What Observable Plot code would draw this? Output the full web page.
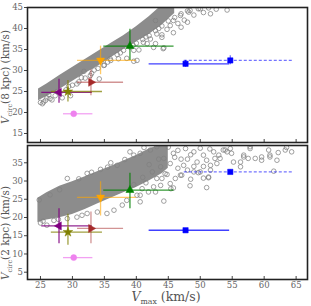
<!DOCTYPE html>
<html><head><meta charset="utf-8">
<script src="https://cdn.jsdelivr.net/npm/d3@7"></script>
<script src="https://cdn.jsdelivr.net/npm/@observablehq/plot@0.6"></script>
<style>
body{margin:0;background:#fff;}
#c{position:relative;width:311px;height:306px;}
#c svg{position:absolute;left:0;overflow:visible;}
</style>
</head><body><div id="c"></div>
<script>
// ---- satellite measurements ----
const names   = ["purple","olive","brown","orange","green","violet","blueA","blueB"];
const colors  = ["#800080","#808000","#a52a2a","#ffa500","#008000","#ee82ee","#0000ff","#0000ff"];
const lineOp  = [0.85, 0.75, 0.5, 0.6, 0.8, 0.75, 0.75, 0.55];
const symbols = ["triangle","star","triangle","triangle","triangle","circle","square","square"];
const rotates = [-90, 0, 90, 180, 0, 0, 0, 0];
const dashed  = [false, false, false, false, false, false, false, true];
const vmax    = [27.9, 29.3, 32.9, 34.4, 39.0, 30.2, 47.7, 54.7];
const vmaxLo  = [25.2, 26.7, 30.8, 30.8, 34.9, 28.6, 42.0, 47.5];
const vmaxHi  = [33.1, 34.7, 38.0, 40.0, 45.9, 33.2, 54.6, 64.7];
const v8      = [24.8, 25.0, 27.2, 32.4, 35.8, 19.7, 31.6, 32.4];
const v8Lo    = [22.2, 22.5, 24.0, 29.0, 32.4, 19.4, 30.8, 31.4];
const v8Hi    = [27.9, 27.6, 30.2, 35.8, 39.8, 20.0, 32.4, 33.5];
const v2      = [17.7, 16.0, 17.0, 25.5, 27.5, 9.0, 16.5, 32.5];
const v2Lo    = [12.8, 12.4, 12.8, 20.4, 22.4, 8.7, 16.2, 32.0];
const v2Hi    = [22.4, 20.9, 21.5, 29.8, 32.1, 9.3, 16.8, 33.0];

// ---- simulated subhalo cloud: dense core band + individual points ----
const band8X  = [24.7, 26, 28, 30, 32, 34, 36, 38, 40, 42, 44, 46];
const band8Hi = [25.6, 26.8, 28.8, 30.7, 32.6, 34.5, 36.4, 38.3, 40.4, 42.8, 45.5, 46];
const band8Lo = [22.8, 23.8, 25.5, 27.4, 29.3, 31.0, 33.0, 35.0, 36.8, 38.6, 40.8, 43.6];
const pts8 = [
 [25.3,22.1],[25.5,22.5],[26.8,23.0],[26.0,23.5],[28.4,23.5],[29.7,24.0],[34.2,28.0],[34.9,31.2],
 [35.9,32.8],[37.2,32.8],[38.5,32.9],[39.6,32.2],[40.1,32.4],[40.4,34.9],[41.1,36.7],[39.6,34.8],
 [42.7,35.5],[31.8,29.8],[30.7,26.8],[32.8,28.8],[45.8,39.0],[44.2,35.2],[44.0,38.5],[51.6,43.5],
 [51.3,44.9],[50.0,44.7],[48.2,43.9],[46.9,43.1],[45.8,41.9],[45.3,40.7],[43.2,38.7],[42.2,37.5],
 [41.7,36.4],[54.2,44.4],[49.7,44.7],[48.4,44.3],[44.3,35.4],[44.0,37.9],[43.0,36.4],[47.5,42.0],
 [49.0,43.2],[50.5,43.8],[52.5,44.6],[46.5,41.2],[48.0,41.5],[44.8,39.8],[47.0,40.3],[43.0,41.9],
 [25.0,22.4],[25.8,22.9],[26.5,23.3],[27.3,24.0],[28.0,24.6],[29.0,25.4],[30.0,26.5],[31.0,27.3],
 [32.0,28.2],[33.0,29.3],[34.0,30.5],[35.0,31.3],[36.0,32.4],[37.0,33.8],[38.0,34.8],[39.0,35.6],
 [40.0,36.5],[41.0,37.4],[42.0,38.3],[43.0,39.5],[44.0,40.6],[45.0,41.8],[46.0,42.6],[47.0,43.5],[48.0,44.2],
 [26.3,24.2],[27.6,25.0],[29.4,26.2],[31.4,28.3],[33.4,30.1],[35.5,32.0],[37.5,34.2],[39.5,36.0],[41.5,38.0],[43.5,40.0]
];
const band2X  = [24.6, 26, 28, 30, 32, 34, 36, 38, 40, 42, 44, 45];
const band2Hi = [25.3, 26.8, 28.6, 29.8, 31.2, 32.6, 34.0, 35.5, 37.0, 38.8, 40, 40];
const band2Lo = [18.6, 19.3, 19.9, 20.8, 22.2, 23.8, 25.3, 26.8, 28.2, 30.0, 32.0, 33.5];
const pts2 = [
 [44.3,24.5],[45.4,27.9],[48.4,28.7],[51.0,28.2],[56.3,33.9],[61.5,32.7],[53.1,36.2],[58.6,36.2],
 [59.6,36.6],[60.9,36.6],[62.2,37.8],[64.3,38.0],[62.0,35.7],[57.8,38.9],[54.2,38.0],[54.7,38.9],
 [52.3,36.2],[51.6,33.0],[51.3,31.1],[49.7,32.3],[49.0,32.5],[47.1,31.6],[46.1,30.7],[43.2,30.7],
 [42.5,32.5],[56.3,35.2],[57.5,36.2],[55.2,35.2],[53.6,38.5],[52.1,38.0],[50.5,37.1],[49.0,38.0],
 [47.7,38.9],[45.8,37.6],[44.3,36.2],[43.8,33.9],[45.3,34.8],[47.4,34.3],[49.5,35.2],[51.0,35.7],
 [52.6,34.8],[56.8,37.1],[60.7,38.5],[63.3,38.5],[57.8,39.4],[59.6,35.7],[60.9,37.1],[63.5,39.2],
 [52.9,37.1],[53.9,38.5],[54.9,37.6],[56.8,36.6],[38.5,24.7],[40.6,26.1],[41.9,27.0],[43.0,27.0],
 [45.8,28.1],[42.7,28.4],[51.3,30.9],[45.3,29.3],[44.0,30.7],[46.9,31.6],[50.0,32.5],[51.6,34.3],
 [40.9,27.9],[39.6,29.0],[26.0,17.9],[27.1,19.2],[30.7,20.1],[32.3,21.1],[33.9,21.5],[35.4,21.1],
 [36.5,22.0],[37.8,23.4],[40.6,24.3],[40.1,26.1],[29.2,19.7],[34.4,33.2],[37.0,34.3],[32.3,32.1],
 [39.6,37.1],[42.2,38.5],[43.2,39.4],[29.2,30.7],[40.6,37.6],[41.0,31.0],[42.0,34.5],[43.5,36.0],
 [44.5,32.0],[46.5,33.5],[48.0,36.0],[46.0,36.5],[48.5,30.5],[50.5,34.0],[41.5,29.5],[43.8,28.8],
 [25.0,18.5],[25.4,19.0],[27.8,19.5],[31.5,20.6],[24.8,24.8],[26.5,26.2],[28.0,27.6],[31.0,30.6],
 [33.0,32.4],[35.5,33.8],[38.2,35.9],[36.0,35.0],[39.0,38.0],[41.2,39.2],[45.0,39.3],[46.5,38.4],
 [48.5,37.2],[50.0,39.0],[51.5,38.8],[47.0,36.0],[48.0,33.0],[49.0,34.0],[50.5,30.8],[44.8,31.8]
];
const xTicks = [25, 30, 35, 40, 45, 50, 55, 60, 65];
const y8Ticks = [15, 20, 25, 30, 35, 40, 45];
const y2Ticks = [5, 10, 15, 20, 25, 30, 35];

const sats = names.map((n, i) => ({n, c: colors[i], op: lineOp[i], s: symbols[i], r: rotates[i], dash: dashed[i],
  x: vmax[i], xl: vmaxLo[i], xh: vmaxHi[i]}));

const font = "'DejaVu Serif', 'Liberation Serif', serif";

function panel(yv, ylo, yhi, bx, bhi, blo, pts, yDomain, yTicks, opts) {
  const data = sats.map((s, i) => ({...s, y: yv[i], yl: ylo[i], yh: yhi[i]}));
  const band = bx.map((x, i) => ({x, lo: blo[i], hi: bhi[i]}));
  return Plot.plot({
    width: 311, height: opts.height,
    marginLeft: 27, marginRight: 4, marginTop: opts.mt, marginBottom: opts.mb,
    style: {fontFamily: font, background: "transparent", overflow: "visible"},
    x: {domain: [22.97, 66.78]},
    y: {domain: yDomain},
    marks: [
      Plot.areaY(band, {x: "x", y1: "lo", y2: "hi", fill: "#8c8c8c", clip: true, curve: "linear"}),
      Plot.dot(pts, {x: d => d[0], y: d => d[1], r: 2.3, stroke: "#808080", strokeWidth: 0.75, fill: "none", clip: true}),
      Plot.ruleY(data.filter(d => !d.dash), {y: "y", x1: "xl", x2: "xh", stroke: "c", strokeOpacity: "op", strokeWidth: 1.3}),
      Plot.ruleY(data.filter(d => d.dash), {y: "y", x1: "xl", x2: "xh", stroke: "c", strokeOpacity: "op", strokeWidth: 1.3, strokeDasharray: "3,2"}),
      Plot.ruleX(data, {x: "x", y1: "yl", y2: "yh", stroke: "c", strokeOpacity: "op", strokeWidth: 1.3}),
      Plot.dot(data, {x: "x", y: "y", symbol: "s", rotate: "r", fill: "c", stroke: "c", r: 3, strokeWidth: 0.5}),
      Plot.axisY({ticks: yTicks, tickSize: 3, tickPadding: 1.5, fontSize: 8.5, label: null, color: "#666", stroke: "#444"}),
      Plot.axisX({ticks: xTicks, tickSize: 3, dy: -3, tickFormat: () => "", label: null, stroke: "#444"}),
      opts.labels
        ? Plot.axisX({ticks: xTicks, tickSize: 0, tickPadding: 2, fontSize: 8.5, label: null, color: "#666"})
        : null,
      Plot.frame({stroke: "#222", strokeWidth: 1.6})
    ]
  });
}

function addLabel(svg, x, y, rot, size, sub, rest) {
  const t = d3.select(svg).append("text")
    .attr("transform", `translate(${x},${y}) rotate(${rot})`)
    .attr("text-anchor", "middle")
    .attr("fill", "#555")
    .attr("font-family", font)
    .attr("font-size", size);
  t.append("tspan").attr("font-style", "italic").text("V");
  t.append("tspan").attr("font-size", size * 0.62).attr("dy", size * 0.25).text(sub);
  t.append("tspan").attr("dy", -size * 0.25).text(rest);
}

const topPanel = panel(v8, v8Lo, v8Hi, band8X, band8Hi, band8Lo, pts8, [12.86, 45], y8Ticks, {height: 145, mt: 7, mb: 3, labels: false});
topPanel.style.top = "0px";
addLabel(topPanel, 9, 77, -90, 10.5, "circ", "(8 kpc) (km/s)");

const botPanel = panel(v2, v2Lo, v2Hi, band2X, band2Hi, band2Lo, pts2, [3.0, 39.74], y2Ticks, {height: 163, mt: 2, mb: 27, labels: true});
botPanel.style.top = "143px";
addLabel(botPanel, 9, 90, -90, 10.5, "circ", "(2 kpc) (km/s)");
addLabel(botPanel, 166, 158, 0, 12.5, "max", " (km/s)");

document.getElementById("c").append(topPanel, botPanel);
</script>
</body></html>
